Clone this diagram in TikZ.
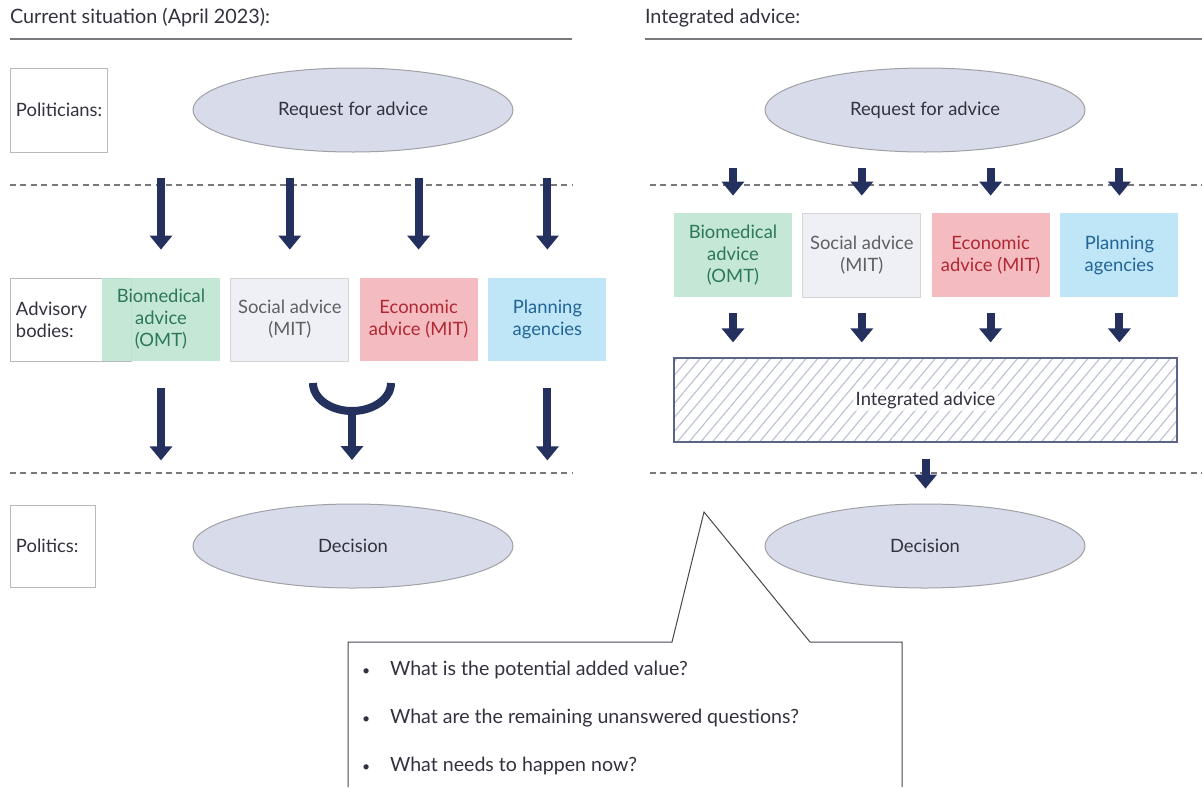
\documentclass[tikz,border=0pt]{standalone}
\usepackage{fontspec}
\setmainfont{Lato}
\usetikzlibrary{positioning,arrows.meta,patterns.meta,shapes.geometric}

\definecolor{navy}{RGB}{36,48,94}
\definecolor{txt}{RGB}{50,50,62}
\definecolor{rulegray}{RGB}{120,120,125}
\definecolor{lblgray}{RGB}{185,185,190}
\definecolor{ovalfill}{RGB}{216,220,234}
\definecolor{ovalline}{RGB}{160,160,165}
\definecolor{biofill}{RGB}{190,228,210}
\definecolor{biotext}{RGB}{45,120,88}
\definecolor{socfill}{RGB}{239,240,245}
\definecolor{soctext}{RGB}{95,95,100}
\definecolor{ecofill}{RGB}{244,188,192}
\definecolor{ecotext}{RGB}{175,40,52}
\definecolor{planfill}{RGB}{190,230,247}
\definecolor{plantext}{RGB}{35,100,150}
\definecolor{hatch}{RGB}{190,196,212}

\begin{document}
\begin{tikzpicture}[x=0.5pt,y=0.5pt]
    \tikzset{
        every node/.style={font=\fontsize{9.2}{11}\selectfont, align=center, text=txt},
        lbl/.style={draw=lblgray, line width=0.5pt, align=left, inner xsep=3pt, minimum height=42pt},
        oval/.style={ellipse, draw=ovalline, fill=ovalfill, line width=0.5pt, minimum width=160pt, minimum height=42pt},
        body/.style={minimum width=59pt, minimum height=42pt, inner sep=1pt, font=\fontsize{9.2}{11}\selectfont},
        bio/.style={body, fill=biofill, fill opacity=0.9, text opacity=1, text=biotext},
        soc/.style={body, fill=socfill, draw=lblgray!60, line width=0.4pt, text=soctext},
        eco/.style={body, fill=ecofill, text=ecotext},
        plan/.style={body, fill=planfill, text=plantext},
        bigarrow/.style={draw=navy, line width=4pt, -{Triangle[width=11pt,length=7pt]}},
        sep/.style={draw=rulegray, dash pattern=on 3pt off 2.2pt, line width=0.6pt},
        headline/.style={draw=rulegray, line width=1pt},
        title/.style={anchor=west, font=\fontsize{9.9}{12}\selectfont},
        question/.style={anchor=west, font=\fontsize{9.8}{12}\selectfont}
        }

    \useasboundingbox (0,0) rectangle (1202,-787);

    %titles
    \node (title1) [title] at (3,-18) {Current situation (April 2023):};
    \node (title2) [title] at (638,-18) {Integrated advice:};
    \draw [headline] (10,-39) -- (572,-39);
    \draw [headline] (645,-39) -- (1202,-39);

    %row labels
    \node (polit) [lbl, text width=42.5pt] at (58.5,-110) {Politicians:};
    \node (advis) [lbl, text width=54.5pt, minimum height=41.5pt] at (70.5,-319.5) {Advisory\\bodies:};
    \node (poltc) [lbl, text width=36.5pt, minimum height=41pt] at (52.5,-546) {Politics:};

    %request
    \node (req1) [oval] at (353,-110) {Request for advice};
    \node (req2) [oval] at (925,-110) {Request for advice};

    %separators
    \draw [sep] (10,-185) -- (572,-185);
    \draw [sep] (650,-185) -- (1202,-185);
    \draw [sep] (10,-473) -- (572,-473);
    \draw [sep] (650,-473) -- (1202,-473);

    %advisory bodies, current
    \node (bio1) [bio, minimum height=41.5pt] at (161,-319.5) {Biomedical\\advice\\(OMT)};
    \node (soc1) [soc, minimum height=41.5pt, right=5pt of bio1] {Social advice\\(MIT)};
    \node (eco1) [eco, minimum height=41.5pt, right=5pt of soc1] {Economic\\advice (MIT)};
    \node (plan1) [plan, minimum height=41.5pt, right=5pt of eco1] {Planning\\agencies};

    %advisory bodies, integrated
    \node (bio2) [bio] at (733,-255) {Biomedical\\advice\\(OMT)};
    \node (soc2) [soc, right=5pt of bio2] {Social advice\\(MIT)};
    \node (eco2) [eco, right=5pt of soc2] {Economic\\advice (MIT)};
    \node (plan2) [plan, right=5pt of eco2] {Planning\\agencies};

    \node (integ) [draw=navy!75, line width=0.8pt, minimum width=251.5pt, minimum height=42pt,
        pattern={Lines[angle=50, distance=4.5pt, line width=0.6pt]}, pattern color=hatch] at (925.5,-400) {};
    \node (integlbl) [fill=white, fill opacity=0.75, text opacity=1, inner sep=1.5pt] at (integ) {Integrated advice};

    %decision
    \node (dec1) [oval] at (353,-546) {Decision};
    \node (dec2) [oval] at (925,-546) {Decision};

    %arrows, current
    \draw [bigarrow] ([yshift=50pt]bio1.north) -- ([yshift=14pt]bio1.north);
    \draw [bigarrow] ([yshift=50pt]soc1.north) -- ([yshift=14pt]soc1.north);
    \draw [bigarrow] ([yshift=50pt]eco1.north) -- ([yshift=14pt]eco1.north);
    \draw [bigarrow] ([yshift=50pt]plan1.north) -- ([yshift=14pt]plan1.north);

    \draw [bigarrow] ([yshift=-13.5pt]bio1.south) -- ([yshift=-49.5pt]bio1.south);
    \draw [bigarrow] ([yshift=-13.5pt]plan1.south) -- ([yshift=-49.5pt]plan1.south);

    % merge of social and economic advice
    \coordinate (mergeL) at (313,-383);
    \coordinate (merge) at (352,-411);
    \coordinate (mergeEnd) at (352,-460);
    \draw [navy, line width=4pt] (mergeL) arc [start angle=180, end angle=360, x radius=19.5pt, y radius=14pt];
    \draw [bigarrow] ([yshift=1pt]merge) -- (mergeEnd);

    %arrows, integrated
    \draw [bigarrow] ([yshift=22.5pt]bio2.north) -- ([yshift=8.5pt]bio2.north);
    \draw [bigarrow] ([yshift=22.5pt]soc2.north) -- ([yshift=8.5pt]soc2.north);
    \draw [bigarrow] ([yshift=22.5pt]eco2.north) -- ([yshift=8.5pt]eco2.north);
    \draw [bigarrow] ([yshift=22.5pt]plan2.north) -- ([yshift=8.5pt]plan2.north);

    \draw [bigarrow] ([yshift=-8pt]bio2.south) -- ([yshift=-22.5pt]bio2.south);
    \draw [bigarrow] ([yshift=-8pt]soc2.south) -- ([yshift=-22.5pt]soc2.south);
    \draw [bigarrow] ([yshift=-8pt]eco2.south) -- ([yshift=-22.5pt]eco2.south);
    \draw [bigarrow] ([yshift=-8pt]plan2.south) -- ([yshift=-22.5pt]plan2.south);

    \draw [bigarrow] ([yshift=-8pt]integ.south) -- ([yshift=-23pt]integ.south);

    % questions
    \draw [txt!90, line width=0.5pt] (348,-787) -- (348,-642) -- (672,-642) -- (704,-512) -- (810,-642) -- (902,-642) -- (902,-787);
    \node (q1) [question] at (355,-670) {\makebox[14pt][l]{\scriptsize\textbullet}What is the potential added value?};
    \node (q2) [question] at (355,-718) {\makebox[14pt][l]{\scriptsize\textbullet}What are the remaining unanswered questions?};
    \node (q3) [question] at (355,-766) {\makebox[14pt][l]{\scriptsize\textbullet}What needs to happen now?};
\end{tikzpicture}
\end{document}
